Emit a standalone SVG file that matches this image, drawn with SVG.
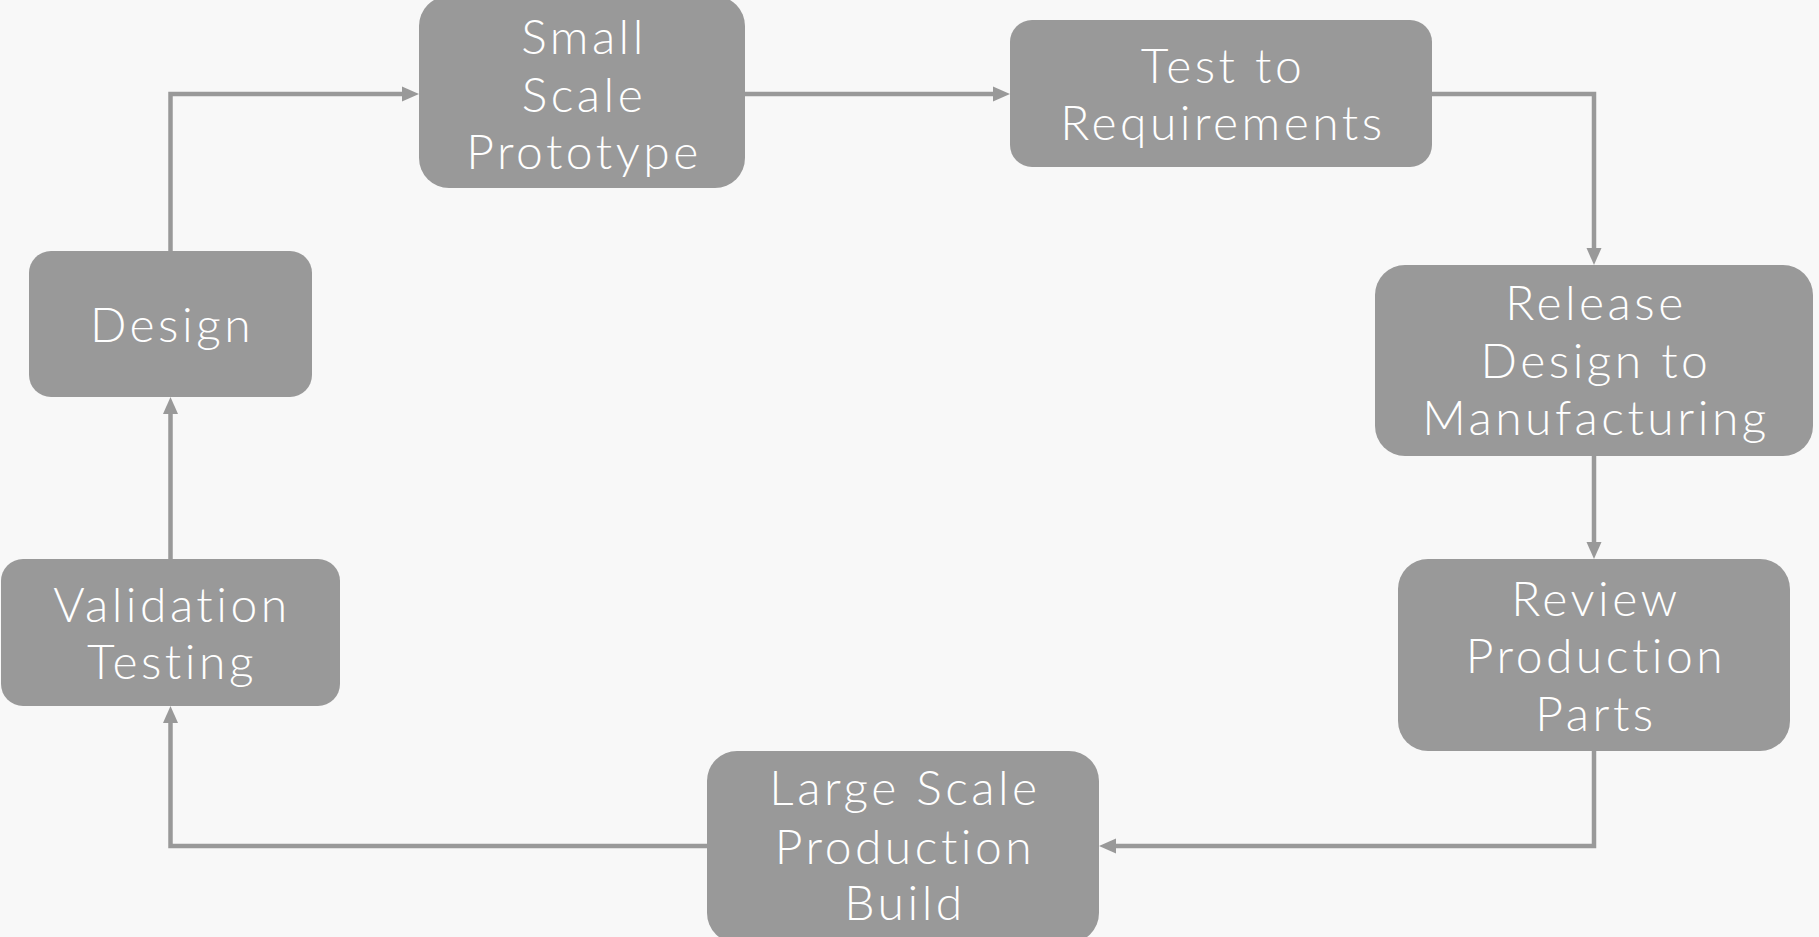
<svg xmlns="http://www.w3.org/2000/svg" width="1819" height="937" viewBox="0 0 1819 937">
<style>
.box{fill:#999999}
.lbl{fill:#ffffff;font-family:Lato,"Open Sans","Liberation Sans",sans-serif;font-weight:300;font-size:48px;letter-spacing:3.5px;text-anchor:middle}
.con{fill:none;stroke:#999999;stroke-width:4.5}
</style>
<defs>
<marker id="arr" markerUnits="userSpaceOnUse" markerWidth="18" markerHeight="16" viewBox="0 0 18 16" refX="0" refY="8" orient="auto">
<path d="M0,0.5 L17,8 L0,15.5 Z" fill="#999999"/>
</marker>
</defs>
<rect width="1819" height="937" fill="#f8f8f8"/>
<g id="connectors">
<path class="con" d="M170.5,251 V94 H402" marker-end="url(#arr)"/>
<path class="con" d="M745,94 H993" marker-end="url(#arr)"/>
<path class="con" d="M1432,94 H1594 V248" marker-end="url(#arr)"/>
<path class="con" d="M1594,456 V542" marker-end="url(#arr)"/>
<path class="con" d="M1594,751 V846 H1116" marker-end="url(#arr)"/>
<path class="con" d="M707,846 H170.5 V723" marker-end="url(#arr)"/>
<path class="con" d="M170.5,559 V414" marker-end="url(#arr)"/>
</g>
<g id="node-prototype">
<rect class="box" x="419" y="-4" width="326" height="192" rx="30"/>
<text class="lbl" x="584" y="54">Small</text>
<text class="lbl" x="584" y="112">Scale</text>
<text class="lbl" x="584" y="169">Prototype</text>
</g>
<g id="node-test">
<rect class="box" x="1010" y="20" width="422" height="147" rx="22"/>
<text class="lbl" x="1223" y="83">Test to</text>
<text class="lbl" x="1223" y="140">Requirements</text>
</g>
<g id="node-design">
<rect class="box" x="29" y="251" width="283" height="146" rx="22"/>
<text class="lbl" x="172" y="342">Design</text>
</g>
<g id="node-release">
<rect class="box" x="1375" y="265" width="438" height="191" rx="30"/>
<text class="lbl" x="1596" y="320">Release</text>
<text class="lbl" x="1596" y="378">Design to</text>
<text class="lbl" x="1596" y="435">Manufacturing</text>
</g>
<g id="node-review">
<rect class="box" x="1398" y="559" width="392" height="192" rx="30"/>
<text class="lbl" x="1596" y="616">Review</text>
<text class="lbl" x="1596" y="673">Production</text>
<text class="lbl" x="1596" y="731">Parts</text>
</g>
<g id="node-large">
<rect class="box" x="707" y="751" width="392" height="192" rx="30"/>
<text class="lbl" x="905" y="805">Large Scale</text>
<text class="lbl" x="905" y="864">Production</text>
<text class="lbl" x="905" y="920">Build</text>
</g>
<g id="node-validation">
<rect class="box" x="1" y="559" width="339" height="147" rx="22"/>
<text class="lbl" x="172" y="622">Validation</text>
<text class="lbl" x="172" y="679">Testing</text>
</g>
</svg>
